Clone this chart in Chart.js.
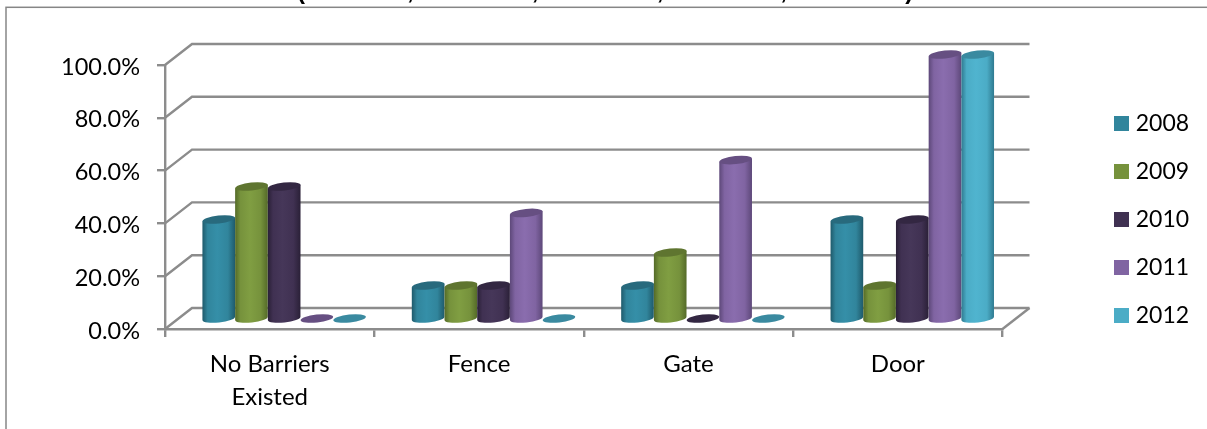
<!DOCTYPE html>
<html>
<head>
<meta charset="utf-8">
<title>Barriers by year</title>
<script src="https://cdn.jsdelivr.net/npm/chart.js@4/dist/chart.umd.min.js"></script>
<style>
  html, body { margin: 0; padding: 0; background: #fff; overflow: hidden; }
  canvas { display: block; }
</style>
</head>
<body>
<canvas id="chart" width="1207" height="429"></canvas>
<script>
// Share of each barrier type per year, in percent
const categories = [["No Barriers", "Existed"], "Fence", "Gate", "Door"];
const years = ["2008", "2009", "2010", "2011", "2012"];
const values2008 = [37.5, 12.5, 12.5, 37.5];
const values2009 = [50, 12.5, 25, 12.5];
const values2010 = [50, 12.5, 0, 37.5];
const values2011 = [0, 40, 60, 100];
const values2012 = [0, 0, 0, 100];
const seriesValues = [values2008, values2009, values2010, values2011, values2012];
const titleText = "(2008, 2009, 2010, 2011, 2012)";

// Legend swatch, lit body, shaded edge and cap colours per series
const baseColors = ["#31859c", "#76923c", "#403152", "#8064a2", "#4bacc6"];
const lightColors = ["#358fa8", "#809e42", "#463759", "#8a6dae", "#50b4cf"];
const edgeColors = ["#1f5a6b", "#546a28", "#2a2037", "#5d4879", "#2f7a90"];
const capColors = ["#286a7d", "#5f7530", "#332742", "#664f82", "#3a8aa0"];

const AXIS_COLOR = "#8c8c8c";
const AXIS_WIDTH = 2.4;
const FONT_FAMILY = "Lato, Carlito, sans-serif";
const DEPTH_X = 27;      // shift of the back wall relative to the front plane
const DEPTH_Y = 21;
const CYLINDER_SHIFT = DEPTH_X / 2 + 1;
const CAP_TILT = -6 * Math.PI / 180;
const CAP_RY = 4;
const SWATCH_INNER = 5.4; // inner box plus a same-coloured border makes a 15px swatch
const SWATCH_BORDER = 9.6;

function ellipse(ctx, cx, cy, rx, start, end, ccw) {
  ctx.ellipse(cx, cy, rx, CAP_RY, CAP_TILT, start, end, ccw);
}

function drawWalls(chart) {
  const { ctx, chartArea, scales } = chart;
  const { left, right } = chartArea;
  ctx.save();
  ctx.strokeStyle = AXIS_COLOR;
  ctx.lineWidth = AXIS_WIDTH;
  ctx.lineJoin = "miter";
  scales.y.ticks.forEach(tick => {
    const py = scales.y.getPixelForValue(tick.value);
    ctx.beginPath();
    ctx.moveTo(left, py);
    ctx.lineTo(left + DEPTH_X, py - DEPTH_Y);
    ctx.lineTo(right + DEPTH_X, py - DEPTH_Y);
    ctx.stroke();
  });
  // Right edge of the floor
  const floor = scales.y.getPixelForValue(0);
  ctx.beginPath();
  ctx.moveTo(right, floor);
  ctx.lineTo(right + DEPTH_X, floor - DEPTH_Y);
  ctx.stroke();
  ctx.restore();
}

function drawCylinder(ctx, bar, base, series) {
  const rx = bar.width / 2;
  const cx = bar.x + CYLINDER_SHIFT;
  const topY = bar.y - DEPTH_Y / 2;
  const botY = base - DEPTH_Y / 2;
  const dy = rx * Math.tan(CAP_TILT);
  if (botY - topY > 0.5) {
    const grad = ctx.createLinearGradient(cx - rx, 0, cx + rx, 0);
    grad.addColorStop(0, edgeColors[series]);
    grad.addColorStop(0.16, baseColors[series]);
    grad.addColorStop(0.45, lightColors[series]);
    grad.addColorStop(0.78, baseColors[series]);
    grad.addColorStop(1, edgeColors[series]);
    ctx.fillStyle = grad;
    ctx.beginPath();
    ctx.moveTo(cx - rx, topY - dy);
    ctx.lineTo(cx - rx, botY - dy);
    ellipse(ctx, cx, botY, rx, Math.PI, 0, true);
    ctx.lineTo(cx + rx, topY + dy);
    ctx.closePath();
    ctx.fill();
  }
  ctx.fillStyle = capColors[series];
  ctx.beginPath();
  ellipse(ctx, cx, topY, rx, 0, Math.PI * 2, false);
  ctx.fill();
}

const frameAndCylinders = {
  id: "frameAndCylinders",
  beforeLayout(chart) {
    // Reserve a fixed band on the right for the legend column
    const legend = chart.legend;
    if (!legend.fixedBand) {
      const fit = legend.fit;
      legend.fit = function () { fit.call(this); this.width = 204.5; };
      legend.fixedBand = true;
    }
  },
  afterLayout(chart) {
    const legend = chart.legend;
    const w = legend.width, h = legend.height;
    legend.left = 1093.8;
    legend.right = legend.left + w;
    legend.top = 87;
    legend.bottom = legend.top + h;
  },
  beforeDraw(chart) {
    const { ctx } = chart;
    ctx.save();
    // Outer frame runs past the right and bottom of the page
    ctx.strokeStyle = "#868686";
    ctx.lineWidth = 1.5;
    ctx.strokeRect(6, 7.3, 1300, 500);
    // Heading sits mostly above the top of the page
    ctx.fillStyle = "#000";
    ctx.font = "bold 24px 'Liberation Sans', sans-serif";
    ctx.textAlign = "left";
    ctx.textBaseline = "alphabetic";
    ctx.letterSpacing = "9.7px";
    ctx.fillText(titleText, 297, -1);
    ctx.restore();
    drawWalls(chart);
  },
  beforeDatasetsDraw(chart) {
    const { ctx, scales } = chart;
    const base = scales.y.getPixelForValue(0);
    ctx.save();
    chart.data.datasets.forEach((ds, i) => {
      chart.getDatasetMeta(i).data.forEach(bar => drawCylinder(ctx, bar, base, i));
    });
    ctx.restore();
    return false; // cylinders replace the default flat bars
  }
};

new Chart(document.getElementById("chart"), {
  type: "bar",
  data: {
    labels: categories,
    datasets: years.map((year, i) => ({
      label: year,
      data: seriesValues[i],
      backgroundColor: baseColors[i],
      borderColor: baseColors[i],
      borderWidth: SWATCH_BORDER,
      categoryPercentage: 0.781,
      barPercentage: 1
    }))
  },
  options: {
    responsive: false,
    animation: false,
    devicePixelRatio: 1,
    layout: { padding: { top: 65, left: 0, right: 0, bottom: 0 } },
    plugins: {
      title: { display: false },
      tooltip: { enabled: false },
      legend: {
        position: "right",
        align: "start",
        labels: {
          boxWidth: SWATCH_INNER,
          boxHeight: SWATCH_INNER,
          padding: 25,
          color: "#000",
          font: { family: FONT_FAMILY, size: 23 }
        }
      }
    },
    scales: {
      x: {
        afterFit(axis) { axis.height = 100; },
        border: { color: AXIS_COLOR, width: AXIS_WIDTH },
        grid: { color: AXIS_COLOR, lineWidth: AXIS_WIDTH, tickLength: 8, drawOnChartArea: false },
        ticks: {
          color: "#000",
          autoSkip: false,
          maxRotation: 0,
          padding: 11,
          font: { family: FONT_FAMILY, size: 24, lineHeight: 1.36 }
        }
      },
      y: {
        min: 0,
        max: 100,
        afterFit(axis) { axis.width = 165; },
        border: { color: AXIS_COLOR, width: AXIS_WIDTH },
        grid: { color: AXIS_COLOR, lineWidth: AXIS_WIDTH, tickLength: 8, drawOnChartArea: false },
        ticks: {
          stepSize: 20,
          color: "#000",
          padding: 17,
          labelOffset: 2,
          font: { family: FONT_FAMILY, size: 23.5 },
          callback: v => v.toFixed(1) + "%"
        }
      }
    }
  },
  plugins: [frameAndCylinders]
});
</script>
</body>
</html>
